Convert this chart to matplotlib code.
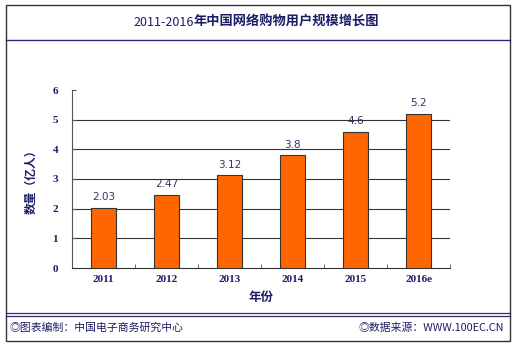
import matplotlib
matplotlib.use("Agg")
import matplotlib.pyplot as plt
from matplotlib.patches import Rectangle
from matplotlib.lines import Line2D

# data
years = ["2011", "2012", "2013", "2014", "2015", "2016e"]
users = [2.03, 2.47, 3.12, 3.8, 4.6, 5.2]
value_labels = ["2.03", "2.47", "3.12", "3.8", "4.6", "5.2"]
y_ticks = [0, 1, 2, 3, 4, 5, 6]

W, H = 520, 346
navy = "#1c1c66"
cjk = ["Noto Sans CJK SC", "DejaVu Sans"]

fig = plt.figure(figsize=(W / 100, H / 100), dpi=100)
fig.patch.set_facecolor("white")


def fx(px):
    return px / W


def fy(py):
    return 1 - py / H


# outer frame and divider lines
fig.patches.append(Rectangle((fx(6), fy(341)), fx(510) - fx(6), fy(5) - fy(341),
                             transform=fig.transFigure, fill=False,
                             edgecolor="#333333", lw=1.0))
fig.lines.append(Line2D([fx(6), fx(510)], [fy(39.5), fy(39.5)],
                        transform=fig.transFigure, color="#2a2a78", lw=1.0))
for yy in (312.5, 315.5):
    fig.lines.append(Line2D([fx(6), fx(510)], [fy(yy), fy(yy)],
                            transform=fig.transFigure, color="#2a2a78", lw=0.9))

# title
fig.text(fx(194), fy(22), "2011-2016", ha="right", va="center",
         fontsize=9, color=navy, family=cjk)
fig.text(fx(194), fy(22), "年中国网络购物用户规模增长图", ha="left", va="center",
         fontsize=9.5, color=navy, family=cjk, fontweight="bold")

# footer
fig.text(fx(10), fy(328), "◎图表编制：中国电子商务研究中心", ha="left", va="center",
         fontsize=7.8, color=navy, family=cjk)
fig.text(fx(504), fy(328), "◎数据来源：WWW.100EC.CN", ha="right", va="center",
         fontsize=7.8, color=navy, family=cjk)

# plot area
ax = fig.add_axes([fx(72), fy(268), fx(450) - fx(72), fy(90) - fy(268)])
x = list(range(len(years)))
ax.bar(x, users, width=0.4, color="#ff6600", edgecolor="#333333", lw=0.8, zorder=3)
for xi, v, lab in zip(x, users, value_labels):
    ax.text(xi, v + 0.18, lab, ha="center", va="bottom", fontsize=7.5,
            color="#333366", family="DejaVu Sans")

ax.set_xlim(-0.5, len(years) - 0.5)
ax.set_ylim(0, 6)
ax.set_yticks(y_ticks)
ax.set_yticklabels([str(t) for t in y_ticks], fontsize=8, fontweight="bold",
                   color=navy, family="Liberation Serif")
ax.set_xticks(x)
ax.set_xticklabels(years, fontsize=8, fontweight="bold", color=navy,
                   family="Liberation Serif")
ax.set_xticks([i - 0.5 for i in range(len(years) + 1)], minor=True)
ax.tick_params(axis="x", which="major", length=0, pad=5)
ax.tick_params(axis="x", which="minor", direction="in", length=3, color="#555555")
ax.tick_params(axis="y", direction="in", length=3, color="#555555", pad=10)

for gy in y_ticks[1:-1]:
    ax.axhline(gy, color="#333333", lw=0.8, zorder=1)

for s in ("top", "right"):
    ax.spines[s].set_visible(False)
ax.spines["left"].set_color("#555555")
ax.spines["bottom"].set_color("#333333")

ax.set_xlabel("年份", fontsize=9, fontweight="bold", color=navy, family=cjk, labelpad=5)
ax.set_ylabel("数量（亿人）", fontsize=8.5, fontweight="bold", color=navy,
              family=cjk, labelpad=11)

fig.savefig("out.png", dpi=100)
plt.close(fig)
